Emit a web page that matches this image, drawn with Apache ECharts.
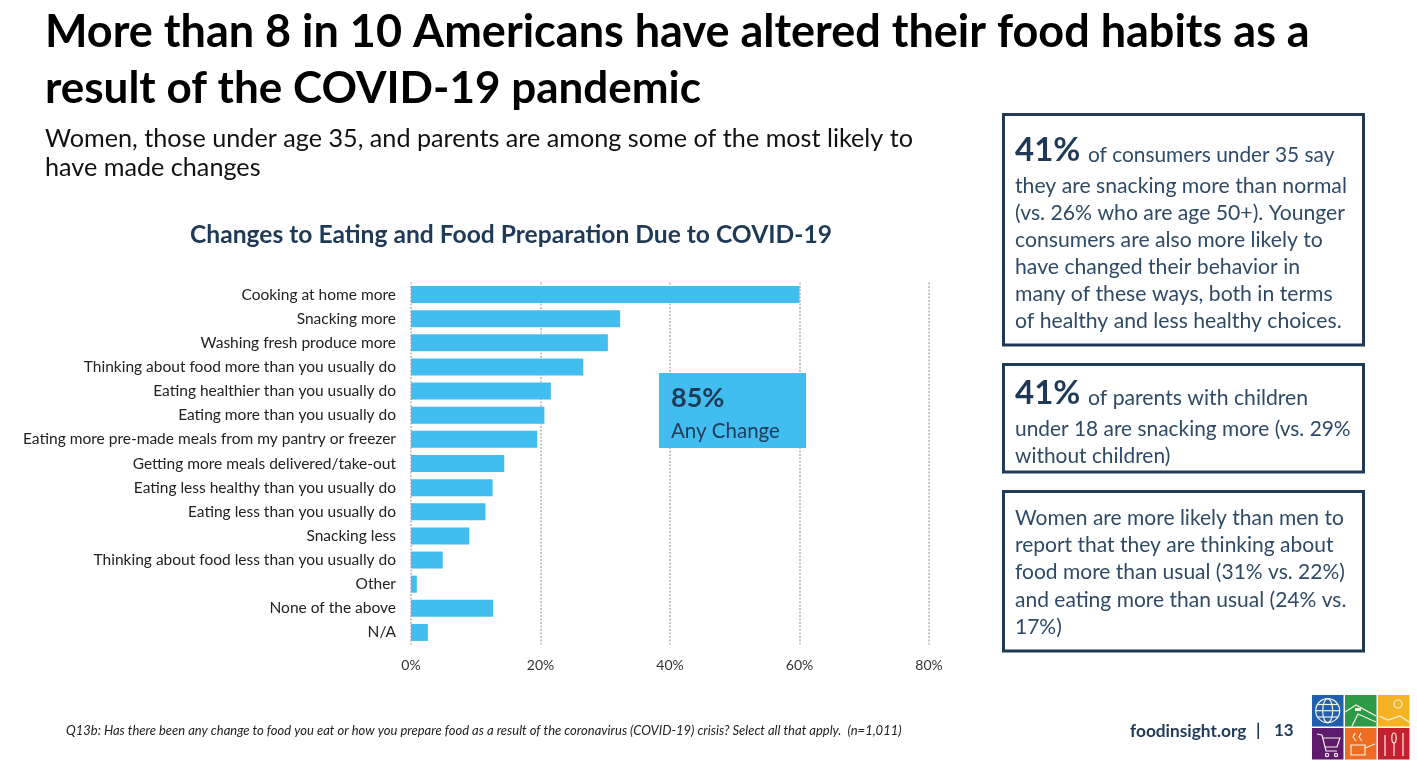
<!DOCTYPE html>
<html>
<head>
<meta charset="utf-8">
<title>Changes to Eating and Food Preparation Due to COVID-19</title>
<script src="https://cdn.jsdelivr.net/npm/echarts@6/dist/echarts.min.js"></script>
<style>
  html, body { margin: 0; padding: 0; background: #fff; }
  #chart { width: 1417px; height: 770px; }
</style>
</head>
<body>
<div id="chart"></div>
<script>
const categories = [
  'Cooking at home more',
  'Snacking more',
  'Washing fresh produce more',
  'Thinking about food more than you usually do',
  'Eating healthier than you usually do',
  'Eating more than you usually do',
  'Eating more pre-made meals from my pantry or freezer',
  'Getting more meals delivered/take-out',
  'Eating less healthy than you usually do',
  'Eating less than you usually do',
  'Snacking less',
  'Thinking about food less than you usually do',
  'Other',
  'None of the above',
  'N/A'
];
const shares = [60, 32.3, 30.4, 26.6, 21.6, 20.6, 19.5, 14.4, 12.6, 11.5, 9, 4.9, 0.9, 12.7, 2.6];

const headline = [
  'More than 8 in 10 Americans have altered their food habits as a',
  'result of the COVID-19 pandemic'
];
const subhead = [
  'Women, those under age 35, and parents are among some of the most likely to',
  'have made changes'
];
const box1Lines = [
  'they are snacking more than normal',
  '(vs. 26% who are age 50+). Younger',
  'consumers are also more likely to',
  'have changed their behavior in',
  'many of these ways, both in terms',
  'of healthy and less healthy choices.'
];
const box2Lines = [
  'under 18 are snacking more (vs. 29%',
  'without children)'
];
const box3Lines = [
  'Women are more likely than men to',
  'report that they are thinking about',
  'food more than usual (31% vs. 22%)',
  'and eating more than usual (24% vs.',
  '17%)'
];
const footnote = 'Q13b: Has there been any change to food you eat or how you prepare food as a result of the coronavirus (COVID-19) crisis? Select all that apply.  (n=1,011)';

const FONT = 'Lato, "Open Sans", sans-serif';
const NAVY = '#1f3a57';
const SLATE = '#2f4a66';
const SKY = '#41bdf0';

function label(x, y, text, size, color, extra) {
  return {
    type: 'text',
    x: x,
    y: y,
    z: 12,
    silent: true,
    style: Object.assign({
      text: text,
      fontFamily: FONT,
      fontSize: size,
      fill: color,
      verticalAlign: 'middle'
    }, extra || {})
  };
}

function frame(y, h) {
  return {
    type: 'rect',
    z: 11,
    shape: { x: 1003.5, y: y, width: 360, height: h },
    style: { fill: '#fff', stroke: NAVY, lineWidth: 3 }
  };
}

function cell(x, y, color) {
  return { type: 'rect', z: 11, shape: { x: x, y: y, width: 31.5, height: 31.5 }, style: { fill: color } };
}

function logoStroke(type, shape) {
  return { type: type, z: 12, shape: shape, style: { fill: 'none', stroke: '#f4f1e6', lineWidth: 1.2 } };
}

const graphics = [
  label(45, 32, headline[0], 45, '#000', { fontWeight: 'bold' }),
  label(45, 89, headline[1], 44, '#000', { fontWeight: 'bold' }),
  label(45, 139, subhead[0], 25.2, '#111'),
  label(45, 168, subhead[1], 25.2, '#111'),
  label(511, 235, 'Changes to Eating and Food Preparation Due to COVID-19', 24.6, NAVY, { fontWeight: 'bold', align: 'center' }),

  { type: 'rect', z: 11, shape: { x: 659, y: 373, width: 147, height: 75 }, style: { fill: SKY } },
  label(671, 398, '85%', 27, NAVY, { fontWeight: 'bold' }),
  label(671, 431, 'Any Change', 20.5, NAVY),

  frame(114.5, 230.5),
  label(1015, 150, '41%', 33, NAVY, { fontWeight: 'bold' }),
  label(1088, 155, 'of consumers under 35 say', 20.85, SLATE),
  frame(364.5, 107.5),
  label(1015, 393, '41%', 33, NAVY, { fontWeight: 'bold' }),
  label(1088, 398, 'of parents with children', 21.2, SLATE),
  frame(491.5, 159.5)
];

const box1Rows = [186, 213, 240, 267, 294, 321];
box1Lines.forEach((t, i) => graphics.push(label(1015, box1Rows[i], t, 21.2, SLATE)));
const box2Rows = [429, 456];
box2Lines.forEach((t, i) => graphics.push(label(1015, box2Rows[i], t, 20.9, SLATE)));
const box3Rows = [518, 545, 572, 600, 627];
box3Lines.forEach((t, i) => graphics.push(label(1015, box3Rows[i], t, 21, SLATE)));

graphics.push(
  label(66, 731, footnote, 13, '#222', { fontStyle: 'italic' }),
  label(1130, 731, 'foodinsight.org', 17.3, NAVY, { fontWeight: 'bold' }),
  label(1256, 731, '|', 17, NAVY, { fontWeight: 'bold' }),
  label(1274, 731, '13', 17, NAVY, { fontWeight: 'bold' }),

  // logo tiles
  cell(1312, 695, '#1f5fae'),
  cell(1345, 695, '#2e9a47'),
  cell(1378, 695, '#f5b324'),
  cell(1312, 728, '#5e1a6b'),
  cell(1345, 728, '#ef6c23'),
  cell(1378, 728, '#c4202f'),
  // globe
  logoStroke('circle', { cx: 1327.7, cy: 710.7, r: 12 }),
  logoStroke('ellipse', { cx: 1327.7, cy: 710.7, rx: 5, ry: 12 }),
  logoStroke('line', { x1: 1315.7, y1: 710.7, x2: 1339.7, y2: 710.7 }),
  logoStroke('line', { x1: 1317.5, y1: 704.5, x2: 1338, y2: 704.5 }),
  logoStroke('line', { x1: 1317.5, y1: 717, x2: 1338, y2: 717 }),
  // farm
  logoStroke('polyline', { points: [[1345, 712], [1356, 705], [1376, 716]] }),
  logoStroke('polyline', { points: [[1352, 726], [1358, 714], [1376, 722]] }),
  { type: 'rect', z: 12, shape: { x: 1355, y: 708, width: 6, height: 3 }, style: { fill: '#f4f1e6' } },
  // grain
  logoStroke('polyline', { points: [[1379, 716], [1388, 720], [1400, 716], [1409, 722]] }),
  logoStroke('circle', { cx: 1398, cy: 704, r: 4 }),
  // cart
  logoStroke('polyline', { points: [[1317, 734], [1322, 735], [1326, 751], [1337, 751]] }),
  logoStroke('polyline', { points: [[1323, 738], [1340, 738], [1337, 747], [1325, 747]] }),
  logoStroke('circle', { cx: 1327, cy: 755, r: 1.6 }),
  logoStroke('circle', { cx: 1336, cy: 755, r: 1.6 }),
  // pot
  logoStroke('rect', { x: 1351, y: 745, width: 14, height: 10 }),
  logoStroke('line', { x1: 1365, y1: 748, x2: 1375, y2: 744 }),
  logoStroke('polyline', { points: [[1355, 733], [1353, 737], [1356, 741]] }),
  logoStroke('polyline', { points: [[1361, 733], [1359, 737], [1362, 741]] }),
  // cutlery
  logoStroke('line', { x1: 1385, y1: 735, x2: 1385, y2: 756 }),
  logoStroke('ellipse', { cx: 1394, cy: 738, rx: 2.2, ry: 5 }),
  logoStroke('line', { x1: 1394, y1: 743, x2: 1394, y2: 756 }),
  logoStroke('line', { x1: 1403, y1: 733, x2: 1403, y2: 756 })
);

const chart = echarts.init(document.getElementById('chart'), null, { renderer: 'canvas' });

chart.setOption({
  backgroundColor: '#fff',
  animation: false,
  grid: { left: 411, top: 282.5, width: 518, height: 362 },
  xAxis: {
    type: 'value',
    min: 0,
    max: 80,
    interval: 20,
    axisLine: { show: false },
    axisTick: { show: false },
    axisLabel: { formatter: '{value}%', fontFamily: FONT, fontSize: 14, color: '#333', margin: 14 },
    splitLine: { show: true, lineStyle: { type: [2, 1.5], color: '#b5b5b5', width: 1.5 } }
  },
  yAxis: {
    type: 'category',
    inverse: true,
    data: categories,
    axisLine: { show: false },
    axisTick: { show: false },
    axisLabel: { fontFamily: FONT, fontSize: 15.5, color: '#222', margin: 15 }
  },
  series: [{
    type: 'bar',
    data: shares,
    barWidth: 17,
    itemStyle: { color: SKY },
    silent: true
  }],
  graphic: { elements: graphics }
});
</script>
</body>
</html>
